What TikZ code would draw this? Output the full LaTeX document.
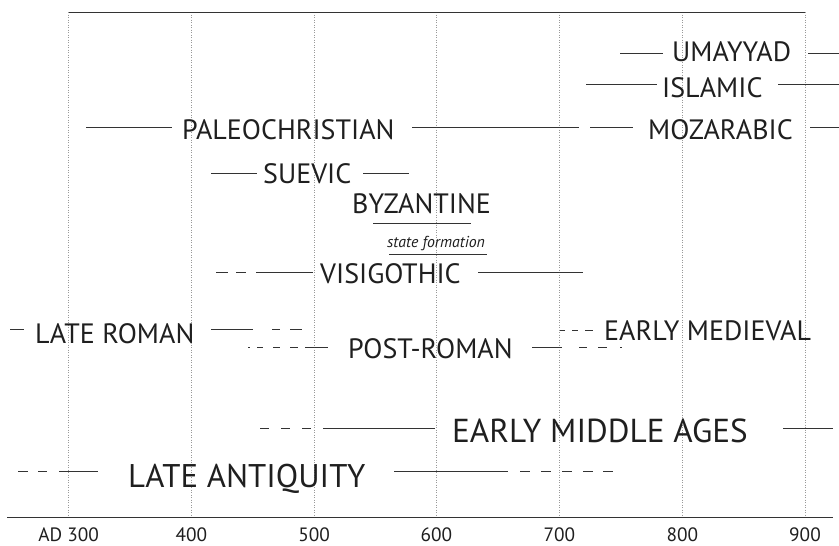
\documentclass[tikz,border=0pt]{standalone}
\usepackage{fontspec}
\setmainfont{PT Sans}
\begin{document}
\begin{tikzpicture}[x=1pt,y=-1pt,
  lbl/.style={anchor=base west,inner sep=0pt,font=\fontsize{28}{30}\selectfont,text=black!88},
  big/.style={anchor=base west,inner sep=0pt,font=\fontsize{33.2}{36}\selectfont,text=black!88},
  huge/.style={anchor=base west,inner sep=0pt,font=\fontsize{32.8}{36}\selectfont,text=black!88},
  tick/.style={anchor=base,inner sep=0pt,font=\fontsize{19.3}{20}\selectfont,text=black!88},
  bar/.style={line width=0.9pt,draw=black!80},
  grid/.style={line width=0.5pt,draw=black!40,dotted}]
\useasboundingbox (0,0) rectangle (839,546);
% grid
\foreach \x in {68.7,191.4,314.1,436.3,559.3,682.3,805}
  \draw[grid] (\x,12) -- (\x,517);
\draw[bar] (68.7,12) -- (805,12);
\draw[bar] (7.3,517) -- (833,517);
\node[tick] (t300) at (68.7,541.5) {AD 300};
\node[tick] (t400) at (191.4,541.5) {400};
\node[tick] (t500) at (314.1,541.5) {500};
\node[tick] (t600) at (436.3,541.5) {600};
\node[tick] (t700) at (559.3,541.5) {700};
\node[tick] (t800) at (682.3,541.5) {800};
\node[tick] (t900) at (805,541.5) {900};
% UMAYYAD
\node[lbl] (umay) at (672,61) {UMAYYAD};
\draw[bar] (620,53) -- (663,53);
\draw[bar] (808,53) -- (839,53);
% ISLAMIC
\node[lbl] (isl) at (662,97) {ISLAMIC};
\draw[bar] (586,84) -- (657,84);
\draw[bar] (778,84) -- (839,84);
% PALEOCHRISTIAN
\node[lbl] (paleo) at (182,139) {PALEOCHRISTIAN};
\draw[bar] (86,127) -- (172,127);
\draw[bar] (412,127) -- (579,127);
% MOZARABIC
\node[lbl] (moz) at (648,139) {MOZARABIC};
\draw[bar] (590,127) -- (633,127);
\draw[bar] (810,127) -- (839,127);
% SUEVIC
\node[lbl] (suev) at (263,183) {SUEVIC};
\draw[bar] (211,173) -- (257,173);
\draw[bar] (363,173) -- (409,173);
% BYZANTINE
\node[lbl] (byz) at (352,213) {BYZANTINE};
\draw[bar] (373,223) -- (471,223);
\node[anchor=base west,inner sep=0pt,font=\fontsize{15.8}{17}\selectfont\itshape,text=black!88] (state) at (387,247) {state formation};
\draw[bar] (389,254) -- (487,254);
% VISIGOTHIC
\node[lbl] (visi) at (320,283) {VISIGOTHIC};
\draw[bar] (216,272) -- (228,272);
\draw[bar] (236,272) -- (246,272);
\draw[bar] (256,272) -- (313,272);
\draw[bar] (478,272) -- (583,272);
% LATE ROMAN
\node[lbl] (lrom) at (35,343) {LATE ROMAN};
\draw[bar] (10,329) -- (24,329);
\draw[bar] (211,329) -- (253,329);
\draw[bar] (272,329) -- (280,329);
\draw[bar] (290,329) -- (302,329);
% POST-ROMAN
\node[lbl] (prom) at (348,358) {POST-ROMAN};
\draw[bar] (248,347) -- (249.5,347);
\draw[bar] (257,347) -- (263,347);
\draw[bar] (273,347) -- (280,347);
\draw[bar] (290,347) -- (298,347);
\draw[bar] (305,347) -- (328,347);
\draw[bar] (532,347) -- (562,347);
\draw[bar] (579,347) -- (587,347);
\draw[bar] (598,347) -- (607,347);
\draw[bar] (620,347) -- (621.5,347);
% EARLY MEDIEVAL
\node[lbl] (emed) at (604,340) {EARLY MEDIEVAL};
\draw[bar] (560,330) -- (565,330);
\draw[bar] (572,330) -- (578,330);
\draw[bar] (585,330) -- (593,330);
% EARLY MIDDLE AGES
\node[big] (ema) at (452,442) {EARLY MIDDLE AGES};
\draw[bar] (260,428) -- (269,428);
\draw[bar] (281,428) -- (290,428);
\draw[bar] (302,428) -- (311,428);
\draw[bar] (323,428) -- (435,428);
\draw[bar] (783,428) -- (833,428);
% LATE ANTIQUITY
\node[huge] (la) at (128,487) {LATE ANTIQUITY};
\draw[bar] (18,471) -- (28,471);
\draw[bar] (38,471) -- (47,471);
\draw[bar] (59,471) -- (98,471);
\draw[bar] (394,471) -- (508,471);
\foreach \a in {520,541,562,583,603}
  \draw[bar] (\a,471) -- (\a+10,471);
\end{tikzpicture}
\end{document}
